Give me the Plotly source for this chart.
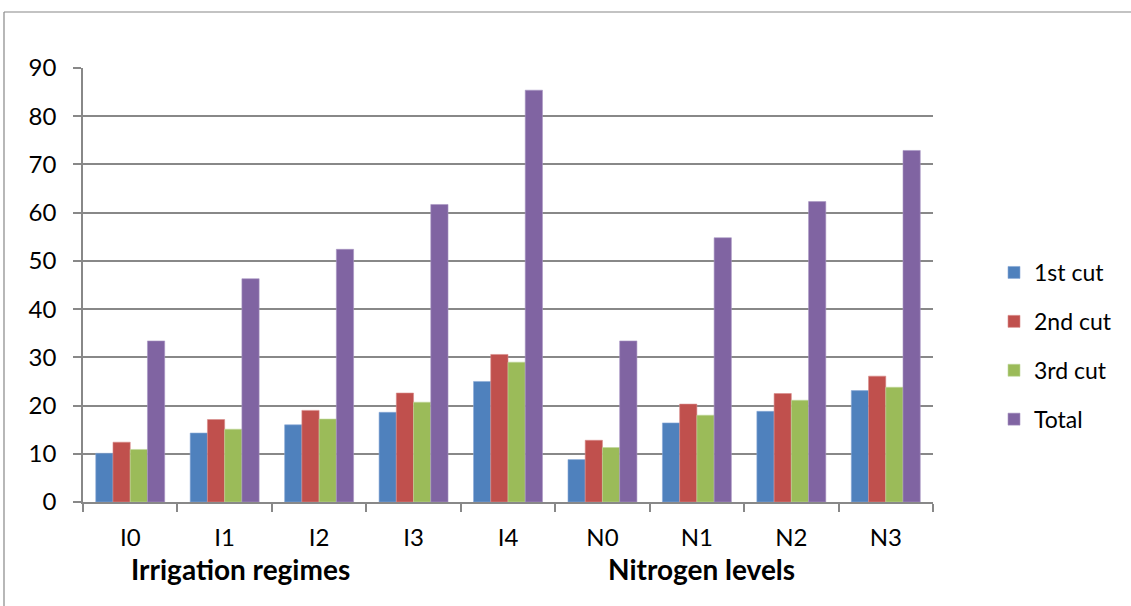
import plotly.graph_objects as go

# Treatments along the category axis
categories = ["I0", "I1", "I2", "I3", "I4", "N0", "N1", "N2", "N3"]

# Yield per cut and season total for each treatment
cut1 = [10.1, 14.3, 16.0, 18.6, 25.0, 8.8, 16.4, 18.8, 23.1]
cut2 = [12.4, 17.1, 19.0, 22.6, 30.6, 12.8, 20.3, 22.5, 26.1]
cut3 = [10.9, 15.1, 17.2, 20.7, 29.0, 11.3, 18.0, 21.1, 23.8]
total = [33.4, 46.3, 52.4, 61.7, 85.4, 33.4, 54.8, 62.3, 72.9]

series_names = ["1st cut", "2nd cut", "3rd cut", "Total"]
series_values = [cut1, cut2, cut3, total]
series_colors = ["#4F81BD", "#C0504D", "#9BBB59", "#8064A2"]
edge_colors = ["#8AAAD6", "#D98B89", "#BFD69A", "#A896C2"]

group_labels = ["Irrigation regimes", "Nitrogen levels"]

FONT = "Lato, 'Open Sans', sans-serif"
GRID = "#888888"

fig = go.Figure()
for name, vals, col, edge in zip(series_names, series_values, series_colors, edge_colors):
    fig.add_trace(go.Bar(
        x=categories, y=vals, name=name, legendgroup=name,
        marker=dict(color=col, line=dict(color=edge, width=0.6)),
    ))

# Plot area geometry (pixels) used to place the frame and group titles
L, R, T, B = 83, 198, 68, 104
W, H = 1131, 606
pw, ph = W - L - R, H - T - B

def px_x(x):
    return (x - L) / pw

def px_y(y):
    return (H - B - y) / ph

fig.update_layout(
    width=W, height=H,
    margin=dict(l=L, r=R, t=T, b=B, pad=0),
    paper_bgcolor="white", plot_bgcolor="white",
    barmode="group", bargap=0.27, bargroupgap=0,
    font=dict(family=FONT, size=22, color="#000000"),
    showlegend=True,
    legend=dict(
        x=px_x(994), y=px_y(251), xanchor="left", yanchor="top",
        font=dict(family=FONT, size=23, color="#000000"),
        traceorder="grouped", tracegroupgap=16,
        bgcolor="rgba(0,0,0,0)", itemwidth=30,
    ),
    xaxis=dict(
        showgrid=False, showline=True, linecolor=GRID, linewidth=1.5,
        ticks="outside", tickson="boundaries", ticklen=8, tickcolor=GRID, tickwidth=1.5,
        ticklabelstandoff=13,
        tickfont=dict(family=FONT, size=24, color="#000000"),
    ),
    yaxis=dict(
        range=[0, 90], dtick=10, showgrid=True, gridcolor=GRID, gridwidth=1.5,
        showline=True, linecolor=GRID, linewidth=1.5, zeroline=False,
        ticks="outside", ticklen=8, tickcolor=GRID, tickwidth=1.5,
        ticklabelstandoff=12,
        tickfont=dict(family=FONT, size=24, color="#000000"),
    ),
    shapes=[
        dict(type="line", xref="paper", yref="paper",
             x0=px_x(4), x1=px_x(1131), y0=px_y(12), y1=px_y(12),
             line=dict(color=GRID, width=1.2)),
        dict(type="line", xref="paper", yref="paper",
             x0=px_x(4), x1=px_x(4), y0=px_y(12), y1=px_y(606),
             line=dict(color=GRID, width=1.2)),
    ],
    annotations=[
        dict(text=group_labels[0], xref="paper", yref="paper",
             x=px_x(240), y=px_y(569), xanchor="center", yanchor="middle",
             showarrow=False,
             font=dict(family=FONT, size=28, color="#000000", weight="bold")),
        dict(text=group_labels[1], xref="paper", yref="paper",
             x=px_x(701), y=px_y(569), xanchor="center", yanchor="middle",
             showarrow=False,
             font=dict(family=FONT, size=28, color="#000000", weight="bold")),
    ],
)

fig.write_html("out.html")
